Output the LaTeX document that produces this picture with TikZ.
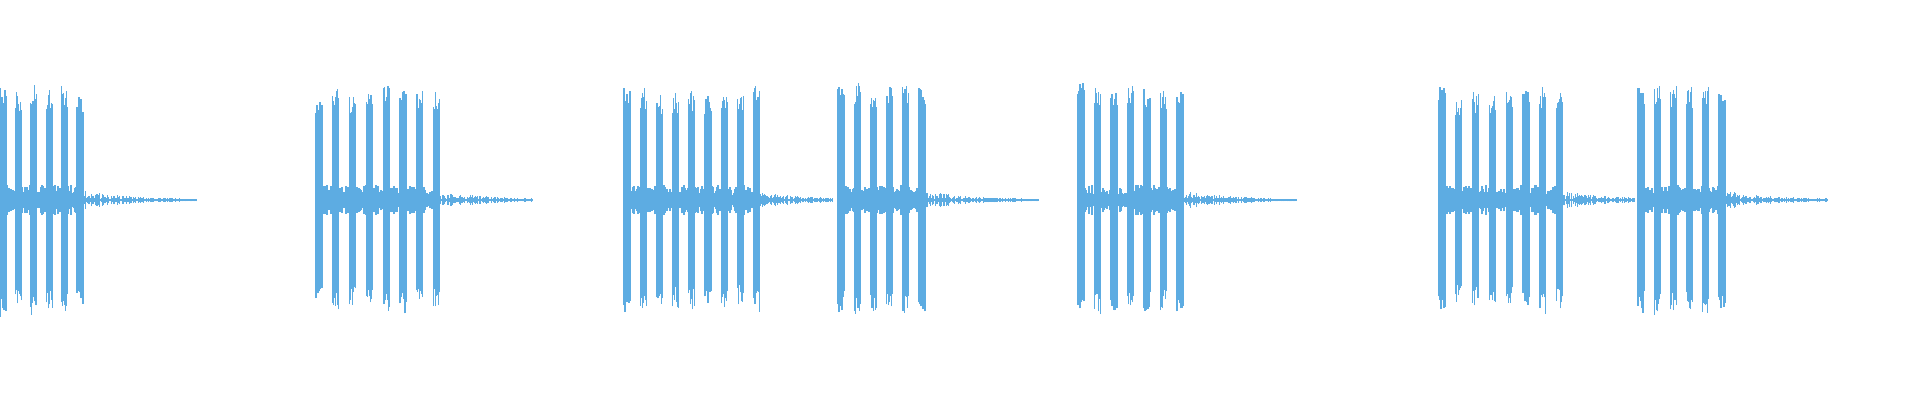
\documentclass[tikz,border=0pt]{standalone}
\definecolor{wave}{RGB}{93,172,226}
\begin{document}
\begin{tikzpicture}[x=1pt,y=1pt,wv/.style={draw=wave,line width=1.2pt}]
\useasboundingbox (0,0) rectangle (1920,400);
\pgfmathsetseed{7}
% bursts: start, number of pulses, pulse spacing, tail end
\foreach \s/\n/\sp/\t in {0/6/15.4/196, 316/8/16.8/533, 624/9/16.2/833, 838/6/16.2/1038, 1078/7/16.5/1296, 1439/8/16.8/1635, 1638/6/16.2/1827}{
  \pgfmathsetmacro{\e}{\s+(\n-1)*\sp+6}
  \pgfmathtruncatemacro{\w}{\e-\s}
  \pgfmathtruncatemacro{\tl}{\t-\e}
  % noise band across burst
  \foreach \k in {0,1,...,\w}{
    \pgfmathsetmacro{\a}{5+10*rnd}
    \draw[wv] (\s+\k,200-\a) -- (\s+\k,200+\a);
  }
  % pulses
  \foreach \p in {1,...,\n}{
    \pgfmathsetmacro{\px}{\s+(\p-1)*\sp}
    \pgfmathsetmacro{\base}{104+14*rnd}
    \foreach \k in {0,1,...,6}{
      \pgfmathsetmacro{\up}{\base*(0.8+0.2*rnd)}
      \pgfmathsetmacro{\dn}{\base*(0.8+0.2*rnd)}
      \draw[wv] (\px+\k,200-\dn) -- (\px+\k,200+\up);
    }
  }
  % decaying tail
  \foreach \k in {0,1,...,\tl}{
    \pgfmathsetmacro{\a}{0.9+9*exp(-\k/40)*rnd}
    \draw[wv,line width=1pt] (\e+\k,200-\a) -- (\e+\k,200+\a);
  }
}
\end{tikzpicture}
\end{document}
